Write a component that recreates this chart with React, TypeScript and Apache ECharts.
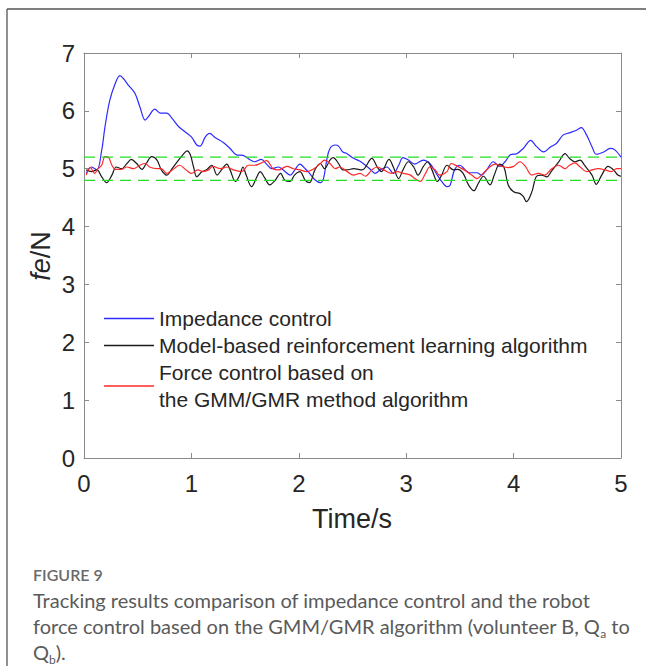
import React, { useEffect, useRef } from "react";
import * as echarts from "echarts";

// Contact force traces, [time (s), force (N)]
const impedance: [number, number][] = [
  [0.02, 4.92], [0.07, 5.03], [0.12, 4.98], [0.165, 5.32], [0.195, 5.72], [0.24, 6.18], [0.29, 6.47],
  [0.335, 6.61], [0.366, 6.56], [0.41, 6.45], [0.475, 6.3], [0.52, 6.07], [0.57, 5.84], [0.6, 5.9],
  [0.66, 6.03], [0.71, 5.96], [0.77, 5.96], [0.82, 5.87], [0.88, 5.73], [0.94, 5.64], [1.0, 5.55],
  [1.05, 5.41], [1.08, 5.39], [1.13, 5.55], [1.17, 5.61], [1.22, 5.54], [1.3, 5.45], [1.36, 5.35],
  [1.42, 5.24], [1.48, 5.23], [1.55, 5.15], [1.59, 5.12], [1.65, 5.16], [1.7, 5.08], [1.75, 5.0],
  [1.81, 5.03], [1.86, 4.97], [1.92, 4.89], [1.96, 4.97], [2.01, 5.08], [2.06, 5.0], [2.1, 4.92],
  [2.15, 4.81], [2.2, 4.76], [2.23, 4.83], [2.26, 5.15], [2.29, 5.35], [2.34, 5.41], [2.37, 5.39],
  [2.41, 5.29], [2.45, 5.26], [2.51, 5.18], [2.57, 5.13], [2.6, 5.09], [2.66, 5.0], [2.71, 4.92],
  [2.76, 4.98], [2.82, 5.03], [2.88, 4.92], [2.93, 5.06], [2.97, 5.19], [3.02, 5.15], [3.08, 5.08],
  [3.16, 5.15], [3.22, 5.09], [3.28, 4.92], [3.33, 4.78], [3.38, 4.69], [3.41, 4.72], [3.45, 4.98],
  [3.5, 5.06], [3.55, 4.98], [3.59, 4.93], [3.66, 4.93], [3.7, 4.89], [3.75, 4.98], [3.81, 5.12],
  [3.87, 5.04], [3.92, 5.12], [3.97, 5.24], [4.03, 5.26], [4.09, 5.35], [4.16, 5.49], [4.21, 5.39],
  [4.28, 5.29], [4.34, 5.37], [4.4, 5.44], [4.46, 5.58], [4.52, 5.62], [4.59, 5.67], [4.63, 5.71],
  [4.68, 5.58], [4.73, 5.38], [4.77, 5.25], [4.84, 5.29], [4.9, 5.35], [4.94, 5.33], [5.0, 5.2],
];

const modelBased: [number, number][] = [
  [0.02, 4.98], [0.07, 4.95], [0.12, 4.98], [0.165, 4.86], [0.21, 4.76], [0.26, 4.89], [0.3, 5.03],
  [0.35, 5.0], [0.4, 5.09], [0.44, 5.16], [0.49, 5.09], [0.54, 4.99], [0.58, 5.09], [0.63, 5.21],
  [0.68, 5.15], [0.72, 4.98], [0.77, 4.89], [0.82, 5.0], [0.88, 5.15], [0.92, 5.24], [0.96, 5.31],
  [0.99, 5.24], [1.02, 5.03], [1.05, 4.86], [1.1, 4.95], [1.14, 4.98], [1.19, 5.06], [1.24, 4.89],
  [1.28, 4.98], [1.33, 5.08], [1.36, 4.98], [1.41, 4.78], [1.45, 4.89], [1.48, 5.03], [1.51, 4.89],
  [1.56, 4.69], [1.61, 4.86], [1.64, 4.95], [1.68, 4.85], [1.73, 4.72], [1.78, 4.8], [1.83, 4.92],
  [1.87, 4.8], [1.92, 4.78], [1.96, 4.89], [2.01, 4.95], [2.06, 4.8], [2.1, 4.76], [2.15, 4.98],
  [2.2, 5.09], [2.24, 5.0], [2.29, 5.15], [2.32, 5.19], [2.37, 5.09], [2.41, 4.98], [2.45, 4.98],
  [2.51, 5.0], [2.59, 4.98], [2.68, 5.18], [2.73, 5.03], [2.77, 4.95], [2.84, 5.16], [2.88, 5.03],
  [2.93, 4.83], [2.97, 4.98], [3.02, 5.12], [3.07, 5.03], [3.11, 4.89], [3.16, 5.04], [3.2, 5.12],
  [3.24, 4.98], [3.29, 4.78], [3.33, 4.89], [3.38, 5.06], [3.44, 4.98], [3.48, 4.99], [3.53, 4.92],
  [3.58, 4.72], [3.63, 4.62], [3.67, 4.74], [3.72, 4.87], [3.78, 4.72], [3.82, 4.89], [3.87, 5.08],
  [3.91, 5.03], [3.95, 4.72], [4.0, 4.6], [4.06, 4.57], [4.09, 4.52], [4.12, 4.43], [4.17, 4.6],
  [4.21, 4.86], [4.26, 4.89], [4.31, 4.86], [4.35, 4.95], [4.42, 5.12], [4.48, 5.26], [4.52, 5.18],
  [4.57, 5.12], [4.62, 5.15], [4.66, 5.06], [4.73, 4.89], [4.77, 4.73], [4.82, 4.89], [4.88, 5.04],
  [4.93, 4.98], [4.97, 4.89], [5.0, 4.87],
];

const gmmGmr: [number, number][] = [
  [0.02, 4.89], [0.06, 5.02], [0.1, 4.92], [0.13, 5.0], [0.165, 5.06], [0.195, 5.21], [0.23, 5.19],
  [0.26, 5.06], [0.29, 4.99], [0.35, 4.99], [0.4, 5.03], [0.46, 5.0], [0.52, 5.06], [0.57, 5.09],
  [0.61, 5.03], [0.68, 5.0], [0.72, 5.0], [0.77, 4.92], [0.83, 4.99], [0.89, 5.06], [0.95, 4.98],
  [1.0, 4.92], [1.06, 4.98], [1.11, 4.95], [1.16, 4.98], [1.2, 5.04], [1.27, 5.0], [1.33, 5.03],
  [1.39, 4.98], [1.47, 4.95], [1.53, 5.06], [1.59, 5.06], [1.64, 5.09], [1.7, 5.14], [1.76, 5.0],
  [1.81, 4.98], [1.89, 5.04], [1.95, 5.0], [2.01, 4.98], [2.07, 4.95], [2.14, 5.0], [2.2, 5.09],
  [2.24, 5.15], [2.29, 5.09], [2.34, 5.0], [2.38, 5.03], [2.45, 4.95], [2.51, 4.89], [2.57, 4.92],
  [2.62, 4.87], [2.68, 4.98], [2.73, 5.03], [2.79, 4.98], [2.86, 4.92], [2.92, 4.95], [2.97, 4.92],
  [3.04, 4.89], [3.08, 4.83], [3.13, 4.78], [3.18, 4.92], [3.22, 5.03], [3.27, 4.98], [3.31, 4.89],
  [3.38, 4.95], [3.42, 5.09], [3.48, 5.04], [3.54, 4.98], [3.61, 4.89], [3.66, 4.83], [3.7, 4.89],
  [3.76, 5.0], [3.83, 5.08], [3.89, 5.04], [3.95, 5.02], [4.0, 5.04], [4.06, 5.12], [4.11, 5.04],
  [4.17, 4.89], [4.23, 4.92], [4.29, 4.89], [4.35, 4.99], [4.42, 5.06], [4.48, 5.0], [4.52, 5.06],
  [4.57, 5.1], [4.62, 5.03], [4.68, 4.95], [4.73, 4.98], [4.79, 5.0], [4.85, 4.98], [4.91, 4.95],
  [4.96, 5.0], [5.0, 5.0],
];

// Tolerance band around the 5 N target
const bandUpper: [number, number][] = [[0, 5.2], [5, 5.2]];
const bandLower: [number, number][] = [[0, 4.8], [5, 4.8]];

const seriesNames = [
  "Impedance control",
  "Model-based reinforcement learning algorithm",
  "Force control based on\nthe GMM/GMR method algorithm",
];

const axisFont = "'Liberation Sans', Arial, Helvetica, sans-serif";
const captionFont = "Lato, 'Open Sans', sans-serif";
const axisGray = "#8a8a8a";
const textDark = "#262626";

export default function App() {
  const ref = useRef<HTMLDivElement>(null);

  useEffect(() => {
    if (!ref.current) return;
    const chart = echarts.init(ref.current, undefined, { renderer: "svg" });

    const baseX = {
      type: "value" as const,
      min: 0,
      max: 5,
      interval: 1,
      axisLine: { show: true, onZero: false, lineStyle: { color: axisGray, width: 1 } },
      axisTick: { show: true, inside: true, length: 5, lineStyle: { color: axisGray } },
      splitLine: { show: false },
    };
    const baseY = {
      type: "value" as const,
      min: 0,
      max: 7,
      interval: 1,
      axisLine: { show: true, onZero: false, lineStyle: { color: axisGray, width: 1 } },
      axisTick: { show: true, inside: true, length: 5, lineStyle: { color: axisGray } },
      splitLine: { show: false },
    };

    const line = (name: string, data: [number, number][], color: string) => ({
      name,
      type: "line" as const,
      data,
      symbol: "none",
      smooth: 0.35,
      lineStyle: { color, width: 1.2 },
      itemStyle: { color },
      z: 3,
    });

    const dashed = (data: [number, number][]) => ({
      type: "line" as const,
      data,
      symbol: "none",
      silent: true,
      lineStyle: { color: "#22dd22", width: 1.3, type: [11, 7] as any },
      z: 4,
    });

    chart.setOption({
      animation: false,
      backgroundColor: "#ffffff",
      grid: { left: 84, top: 53, right: 25, bottom: 208, containLabel: false },
      xAxis: [
        {
          ...baseX,
          position: "bottom",
          axisLabel: { color: textDark, fontSize: 24, fontFamily: axisFont, margin: 13 },
        },
        { ...baseX, position: "top", axisLabel: { show: false } },
      ],
      yAxis: [
        {
          ...baseY,
          position: "left",
          axisLabel: { color: textDark, fontSize: 24, fontFamily: axisFont, margin: 9 },
        },
        { ...baseY, position: "right", axisLabel: { show: false } },
      ],
      legend: {
        data: seriesNames,
        orient: "vertical",
        left: 99,
        top: 300,
        icon: "rect",
        itemWidth: 50,
        itemHeight: 1.3,
        itemGap: 0,
        selectedMode: false,
        textStyle: { color: textDark, fontSize: 21, fontFamily: axisFont, lineHeight: 27 },
      },
      series: [
        line(seriesNames[0], impedance, "#2b2bff"),
        line(seriesNames[1], modelBased, "#1a1a1a"),
        line(seriesNames[2], gmmGmr, "#ff2a2a"),
        dashed(bandUpper),
        dashed(bandLower),
      ],
      graphic: [
        // outer figure frame
        { type: "line", shape: { x1: 7, y1: 9, x2: 646, y2: 9 }, style: { stroke: "#555", lineWidth: 1.3 } },
        { type: "line", shape: { x1: 7, y1: 9, x2: 7, y2: 666 }, style: { stroke: "#555", lineWidth: 1.3 } },
        {
          type: "text",
          x: 352,
          y: 519,
          style: {
            text: "Time/s",
            fill: textDark,
            font: `27px ${axisFont}`,
            textAlign: "center",
            textVerticalAlign: "middle",
          },
        },
        {
          type: "text",
          x: 41,
          y: 256,
          rotation: Math.PI / 2,
          style: {
            text: "{i|fe}/N",
            fill: textDark,
            font: `27px ${axisFont}`,
            textAlign: "center",
            textVerticalAlign: "middle",
            rich: { i: { fontStyle: "italic", fontSize: 27, fontFamily: axisFont, fill: textDark } },
          },
        },
        {
          type: "text",
          x: 33,
          y: 574,
          style: {
            text: "FIGURE 9",
            fill: "#6a6a6a",
            font: `600 16px ${captionFont}`,
            textVerticalAlign: "middle",
          },
        },
        {
          type: "text",
          x: 33,
          y: 587,
          style: {
            text:
              "Tracking results comparison of impedance control and the robot\n" +
              "force control based on the GMM/GMR algorithm (volunteer B, Q{sub|a} to\n" +
              "Q{sub|b}).",
            fill: "#5a5a5a",
            font: `20px ${captionFont}`,
            lineHeight: 26,
            rich: {
              sub: {
                fontSize: 12,
                fontFamily: captionFont,
                fill: "#5a5a5a",
                verticalAlign: "bottom",
                lineHeight: 26,
                padding: [8, 0, 0, 0],
              },
            },
          },
        },
      ],
    });

    return () => chart.dispose();
  }, []);

  return (
    <div
      ref={ref}
      style={{ position: "fixed", left: 0, top: 0, width: 646, height: 666, background: "#fff" }}
    />
  );
}
